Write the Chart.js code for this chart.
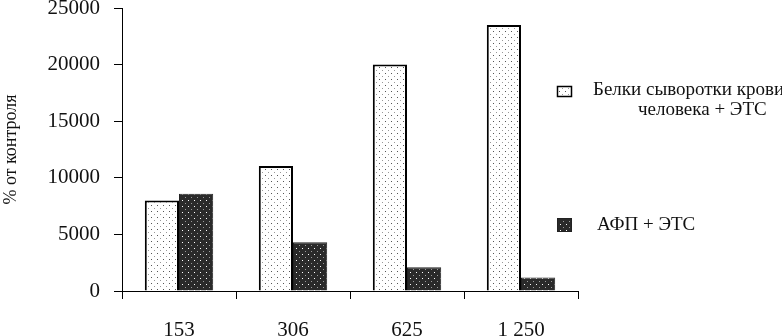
<!DOCTYPE html>
<html>
<head>
<meta charset="utf-8">
<script src="https://cdn.jsdelivr.net/npm/chart.js@4/dist/chart.umd.min.js"></script>
<style>
  html, body { margin: 0; padding: 0; background: #fff; }
  #wrap { width: 782px; height: 336px; }
</style>
</head>
<body>
<div id="wrap"><canvas id="c" width="782" height="336"></canvas></div>
<script>
// ---- data ----
const categories = ['153', '306', '625', '1 250'];
const serumProteins = [8000, 11050, 20000, 23500];   // Белки сыворотки крови человека + ЭТС
const afp = [8600, 4300, 2100, 1200];                // АФП + ЭТС
const seriesLabels = ['Белки сыворотки крови человека + ЭТС', 'АФП + ЭТС'];
const legendLines = [['Белки сыворотки крови', 'человека + ЭТС'], ['АФП + ЭТС']];
const yTicks = [0, 5000, 10000, 15000, 20000, 25000];

// ---- patterns ----
function makePattern(bg, dots) {
  const p = document.createElement('canvas');
  p.width = 6; p.height = 6;
  const g = p.getContext('2d');
  g.fillStyle = bg; g.fillRect(0, 0, 6, 6);
  dots.forEach(d => { g.fillStyle = d[3]; g.fillRect(d[0], d[1], d[2], d[2]); });
  return document.getElementById('c').getContext('2d').createPattern(p, 'repeat');
}
const lightPattern = makePattern('#ffffff', [[1, 1, 1, '#555'], [4, 4, 1, '#999']]);
const darkPattern = makePattern('#2a2a2a', [[2, 2, 1, '#ffffff'], [5, 5, 1, '#9a9a9a']]);

const SERIF = "'Liberation Serif', 'Times New Roman', serif";

const legendPlugin = {
  id: 'customLegend',
  afterDraw(chart) {
    const ctx = chart.ctx;
    ctx.save();
    // item 1
    ctx.fillStyle = lightPattern;
    ctx.fillRect(557, 86, 15, 11);
    ctx.strokeStyle = '#000'; ctx.lineWidth = 1.5;
    ctx.strokeRect(557.5, 86.5, 14, 10);
    // item 2
    ctx.fillStyle = darkPattern;
    ctx.fillRect(557, 218, 15, 14);
    ctx.strokeStyle = '#222'; ctx.lineWidth = 1;
    ctx.strokeRect(557.5, 218.5, 14, 13);

    ctx.fillStyle = '#111';
    ctx.font = '19px ' + SERIF;
    ctx.textBaseline = 'middle';
    ctx.textAlign = 'left';
    ctx.fillText(legendLines[0][0], 593, 90);
    ctx.fillText(legendLines[0][1], 638, 110);
    ctx.fillText(legendLines[1][0], 597, 225);
    ctx.restore();
  }
};

new Chart(document.getElementById('c'), {
  type: 'bar',
  data: {
    labels: categories,
    datasets: [
      { label: seriesLabels[0], data: serumProteins, backgroundColor: lightPattern,
        borderColor: '#000', borderWidth: 2, borderSkipped: 'start' },
      { label: seriesLabels[1], data: afp, backgroundColor: darkPattern,
        borderColor: '#222', borderWidth: 1, borderSkipped: 'start' }
    ]
  },
  options: {
    responsive: false,
    devicePixelRatio: 1,
    animation: false,
    layout: { padding: { top: 8, right: 204, left: 0, bottom: 0 } },
    datasets: { bar: { categoryPercentage: 0.6, barPercentage: 1.0 } },
    plugins: { legend: { display: false }, tooltip: { enabled: false } },
    scales: {
      x: {
        grid: { display: true, drawOnChartArea: false, drawTicks: true, tickLength: 8, color: '#000', offset: true },
        border: { display: true, color: '#000', width: 1 },
        ticks: { color: '#111', font: { family: SERIF, size: 21 }, padding: 19, maxRotation: 0 },
        afterFit(s) { s.height = 45; s.paddingLeft = 0; s.paddingRight = 0; }
      },
      y: {
        min: 0, max: 25000,
        afterBuildTicks(s) { s.ticks = yTicks.map(v => ({ value: v })); },
        grid: { display: true, drawOnChartArea: false, drawTicks: true, tickLength: 8, color: '#000' },
        border: { display: true, color: '#000', width: 1 },
        ticks: { color: '#111', font: { family: SERIF, size: 21 }, padding: 14,
                 callback: v => String(v) },
        title: { display: true, text: '% от контроля', color: '#111',
                 font: { family: SERIF, size: 18 }, padding: { top: 0, bottom: 0 } },
        afterFit(s) { s.width = 122; s.paddingTop = 0; s.paddingBottom = 0; }
      }
    }
  },
  plugins: [legendPlugin]
});
</script>
</body>
</html>
